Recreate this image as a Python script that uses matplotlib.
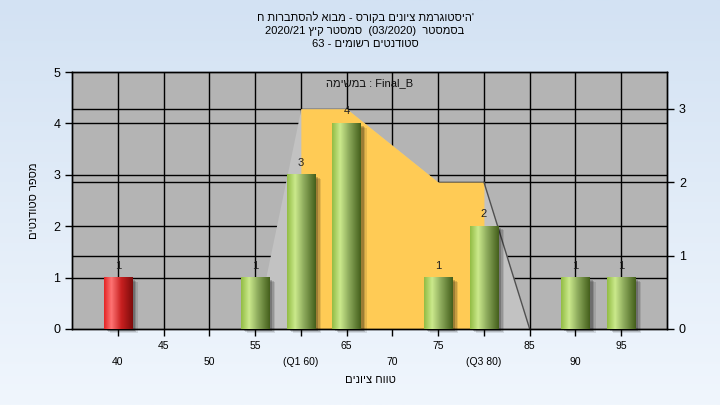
import numpy as np
import matplotlib
matplotlib.use('Agg')
import matplotlib.pyplot as plt
from matplotlib.colors import LinearSegmentedColormap
from matplotlib.patches import Rectangle
import matplotlib.transforms as mtransforms

plt.rcParams['font.family'] = ['Liberation Sans', 'DejaVu Sans']

# data
grades = [40, 55, 60, 65, 75, 80, 90, 95]
counts = [1, 1, 3, 4, 1, 2, 1, 1]
bar_kind = ['fail', 'pass', 'pass', 'pass', 'pass', 'pass', 'pass', 'pass']

area_x = [55, 60, 65, 70, 75, 80, 85]
area_y = [0, 3, 3, 2.5, 2, 2, 0]
q1, q3 = 60, 80

tick_top = [45, 55, 65, 75, 85, 95]
tick_top_labels = ['45', '55', '65', '75', '85', '95']
tick_low = [40, 50, 60, 70, 80, 90]
tick_low_labels = ['40', '50', '(Q1 60)', '70', '(Q3 80)', '90']

left_ticks = [0, 1, 2, 3, 4, 5]
right_ticks = [0, 1, 2, 3]


def rtl(s):
    # matplotlib has no bidi, so hebrew runs go in visual order
    return s[::-1]


title_1 = rtl('היסטוגרמת ציונים בקורס - מבוא להסתברות ח') + "'"
title_2 = '2020/21 ' + rtl('סמסטר קיץ') + '  (03/2020)  ' + rtl('בסמסטר')
title_3 = '63 - ' + rtl('סטודנטים רשומים')
task_label = rtl('במשימה') + ' : Final_B'
x_title = rtl('טווח ציונים')
y_title = rtl('מספר סטודנטים')

fig = plt.figure(figsize=(7.2, 4.05), dpi=100)

# background gradient
bg = fig.add_axes([0, 0, 1, 1], zorder=-10)
bg_cmap = LinearSegmentedColormap.from_list('bg', ['#d3e2f3', '#f0f6fd'])
bg.imshow(np.linspace(0, 1, 256)[:, None], aspect='auto', cmap=bg_cmap,
          extent=[0, 1, 0, 1])
bg.axis('off')

ax_r = fig.add_axes([0.1, 0.1877, 0.8264, 0.6345])
ax_l = ax_r.twinx()
ax_l.yaxis.tick_left()
ax_r.yaxis.tick_right()
ax_l.patch.set_visible(False)
ax_r.set_facecolor('#b4b4b4')

x_min, x_max = 35, 100
ax_r.set_xlim(x_min, x_max)
ax_r.set_ylim(0, 3.5)
ax_l.set_ylim(0, 5)

# grid behind the area
for g in tick_top + tick_low:
    ax_r.axvline(g, color='black', lw=1, zorder=1)
for v in right_ticks[1:]:
    ax_r.axhline(v, color='black', lw=1, zorder=1)
blend = mtransforms.blended_transform_factory(ax_r.transAxes, ax_l.transData)
for v in left_ticks[1:-1]:
    ax_r.plot([0, 1], [v, v], color='black', lw=1, transform=blend, zorder=1)

# area: light outside the quartiles, orange inside
ax_x = np.array(area_x, dtype=float)
ax_y = np.array(area_y, dtype=float)
ax_r.fill_between(ax_x, ax_y, color='#c2c2c2', lw=0, zorder=2)
ax_r.fill_between(ax_x, ax_y, where=(ax_x >= q1) & (ax_x <= q3),
                  color='#ffcb55', lw=0, zorder=2.1)
ax_r.plot(ax_x[-2:], ax_y[-2:], color='#505050', lw=1, zorder=2.2)

# bars with cylinder shading
green = LinearSegmentedColormap.from_list(
    'g', [(0, '#93bd45'), (0.28, '#cbe98c'), (0.6, '#8aa85a'), (1, '#45601c')])
red = LinearSegmentedColormap.from_list(
    'r', [(0, '#e42626'), (0.25, '#ff7474'), (0.6, '#c82020'), (1, '#7e0c0c')])
bars = ax_l.bar(grades, counts, width=3.1, color='none', lw=0, zorder=3)
grad = np.linspace(0, 1, 64)[None, :]
for rect, kind, n in zip(bars, bar_kind, counts):
    x0, w, h = rect.get_x(), rect.get_width(), rect.get_height()
    for k, a in [(6, 0.10), (4.5, 0.14), (3, 0.2)]:
        sh = Rectangle((x0, 0), w, h, color='black', alpha=a, lw=0,
                       transform=mtransforms.offset_copy(ax_l.transData, fig,
                                                         x=k, y=-k * 0.7, units='dots'),
                       zorder=2.8, clip_on=False)
        ax_l.add_patch(sh)
    ax_l.imshow(grad, extent=[x0, x0 + w, 0, h], aspect='auto',
                cmap=red if kind == 'fail' else green, zorder=3)
    ax_l.annotate(str(n), (x0 + w / 2, h), xytext=(0, 5), textcoords='offset points',
                  ha='center', va='bottom', fontsize=8, color='#202020', zorder=5)

ax_l.set_xlim(x_min, x_max)
ax_l.set_ylim(0, 5)
ax_l.set_aspect('auto')

# axes cosmetics
for a in (ax_l, ax_r):
    for s in a.spines.values():
        s.set_color('black')
        s.set_linewidth(1)

ax_l.set_yticks(left_ticks)
ax_l.tick_params(axis='y', labelsize=9, length=5, width=1, colors='black')
ax_r.set_yticks(right_ticks)
ax_r.tick_params(axis='y', labelsize=9, length=5, width=1, colors='black')

ax_r.set_xticks(tick_low)
ax_r.set_xticklabels(tick_low_labels)
ax_r.set_xticks(tick_top, minor=True)
ax_r.set_xticklabels(tick_top_labels, minor=True)
ax_r.tick_params(axis='x', which='major', labelsize=7.5, length=5, width=1, pad=15)
ax_r.tick_params(axis='x', which='minor', labelsize=7.5, length=5, width=1, pad=4)

ax_r.text(0.5, 0.955, task_label, transform=ax_r.transAxes, ha='center', va='center',
          fontsize=8, color='#101010', zorder=6)

fig.text(0.507, 0.958, title_1, ha='center', va='center', fontsize=8)
fig.text(0.507, 0.924, title_2, ha='center', va='center', fontsize=8)
fig.text(0.507, 0.891, title_3, ha='center', va='center', fontsize=8)
fig.text(0.514, 0.062, x_title, ha='center', va='center', fontsize=8)
fig.text(0.047, 0.505, y_title, ha='center', va='center', rotation=90, fontsize=8)

fig.savefig('out.png', dpi=100)
